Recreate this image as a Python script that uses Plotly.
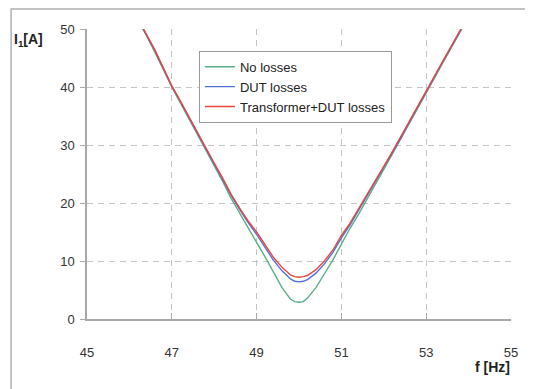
import plotly.graph_objects as go

freq = [46.2, 46.4, 46.6, 46.8, 47.0, 47.2, 47.4, 47.6, 47.8, 48.0,
        48.2, 48.4, 48.6, 48.8, 49.0, 49.2, 49.4, 49.6, 49.8, 49.9,
        50.0, 50.1, 50.2, 50.4, 50.6, 50.8, 51.0, 51.2, 51.4, 51.6,
        51.8, 52.0, 52.2, 52.4, 52.6, 52.8, 53.0, 53.2, 53.4, 53.6,
        53.8, 54.0]

no_losses = [51.5, 48.9, 46.0, 43.0, 40.0, 37.3, 34.6, 31.8, 29.1, 26.4,
             23.7, 20.8, 18.2, 15.8, 13.2, 10.7, 8.1, 5.4, 3.4, 3.0,
             2.9, 3.0, 3.6, 5.4, 7.8, 10.2, 12.9, 15.6, 18.0, 20.5,
             23.2, 25.8, 28.4, 31.0, 33.7, 36.4, 39.0, 41.6, 44.3, 46.8,
             49.4, 52.1]

dut_losses = [51.7, 49.1, 46.3, 43.2, 40.1, 37.5, 34.8, 32.0, 29.4, 26.8,
              24.1, 21.3, 18.9, 16.6, 14.6, 12.3, 10.1, 8.3, 6.9, 6.5,
              6.4, 6.5, 6.8, 7.9, 9.5, 11.5, 14.0, 16.2, 18.7, 21.1,
              23.6, 26.1, 28.6, 31.2, 33.9, 36.6, 39.2, 41.8, 44.5, 47.0,
              49.6, 52.3]

trafo_dut_losses = [51.8, 49.2, 46.4, 43.3, 40.2, 37.6, 34.9, 32.1, 29.5, 26.9,
                    24.3, 21.5, 19.1, 16.9, 15.0, 12.7, 10.6, 8.9, 7.6, 7.3,
                    7.2, 7.3, 7.5, 8.5, 10.0, 11.9, 14.4, 16.5, 18.9, 21.3,
                    23.8, 26.3, 28.8, 31.4, 34.0, 36.7, 39.3, 41.9, 44.6, 47.1,
                    49.7, 52.4]

series_names = ["No losses", "DUT losses", "Transformer+DUT losses"]
series_colors = ["#5aae88", "#4f72d6", "#e8463f"]

x_ticks = [45, 47, 49, 51, 53, 55]
y_ticks = [0, 10, 20, 30, 40, 50]

FONT = "Liberation Sans, Arial, sans-serif"

fig = go.Figure()
for name, vals, col in zip(series_names, [no_losses, dut_losses, trafo_dut_losses], series_colors):
    fig.add_trace(go.Scatter(x=freq, y=vals, mode="lines", name=name,
                             line=dict(color=col, width=1.4)))

grid_col = "#c4c4c4"
axis_col = "#a8a8a8"

fig.update_layout(
    width=533, height=389,
    margin=dict(l=79, r=30, t=21, b=78),
    paper_bgcolor="white", plot_bgcolor="white",
    font=dict(family=FONT, size=13, color="#333333"),
    showlegend=True,
    legend=dict(x=0.264, y=0.925, xanchor="left", yanchor="top",
                bordercolor="#9a9a9a", borderwidth=1, bgcolor="white",
                font=dict(family=FONT, size=13, color="#222222"),
                tracegroupgap=0, itemwidth=30),
    xaxis=dict(range=[45, 55], tickvals=x_ticks, ticktext=[str(v) for v in x_ticks],
               showgrid=True, gridcolor=grid_col, griddash="6px,5px", gridwidth=1.2,
               showline=True, linecolor=axis_col, linewidth=1.5,
               ticks="inside", ticklen=6, tickcolor=axis_col,
               ticklabelstandoff=21, zeroline=False,
               tickfont=dict(family=FONT, size=13, color="#333333")),
    yaxis=dict(range=[0, 50], tickvals=y_ticks, ticktext=[str(v) for v in y_ticks],
               showgrid=True, gridcolor=grid_col, griddash="6px,5px", gridwidth=1.2,
               showline=True, linecolor=axis_col, linewidth=1.5,
               ticks="outside", ticklen=5, tickcolor=axis_col,
               ticklabelstandoff=3, zeroline=False,
               tickfont=dict(family=FONT, size=13, color="#333333")),
)

# outer frame of the original figure (extends beyond visible area)
fig.add_shape(type="rect", xref="paper", yref="paper",
              x0=-0.179, x1=1.3, y0=-0.5, y1=1.069,
              line=dict(color="#b0b0b0", width=1.5), layer="below")

fig.add_annotation(xref="paper", yref="paper", x=-0.139, y=0.962,
                   text="<b>I<sub>1</sub>[A]</b>", showarrow=False,
                   font=dict(family=FONT, size=14, color="#222222"),
                   xanchor="center", yanchor="middle")
fig.add_annotation(xref="paper", yref="paper", x=1.002, y=-0.166,
                   text="<b>f [Hz]</b>", showarrow=False,
                   font=dict(family=FONT, size=14, color="#222222"),
                   xanchor="right", yanchor="middle")

fig.write_html("out.html")
